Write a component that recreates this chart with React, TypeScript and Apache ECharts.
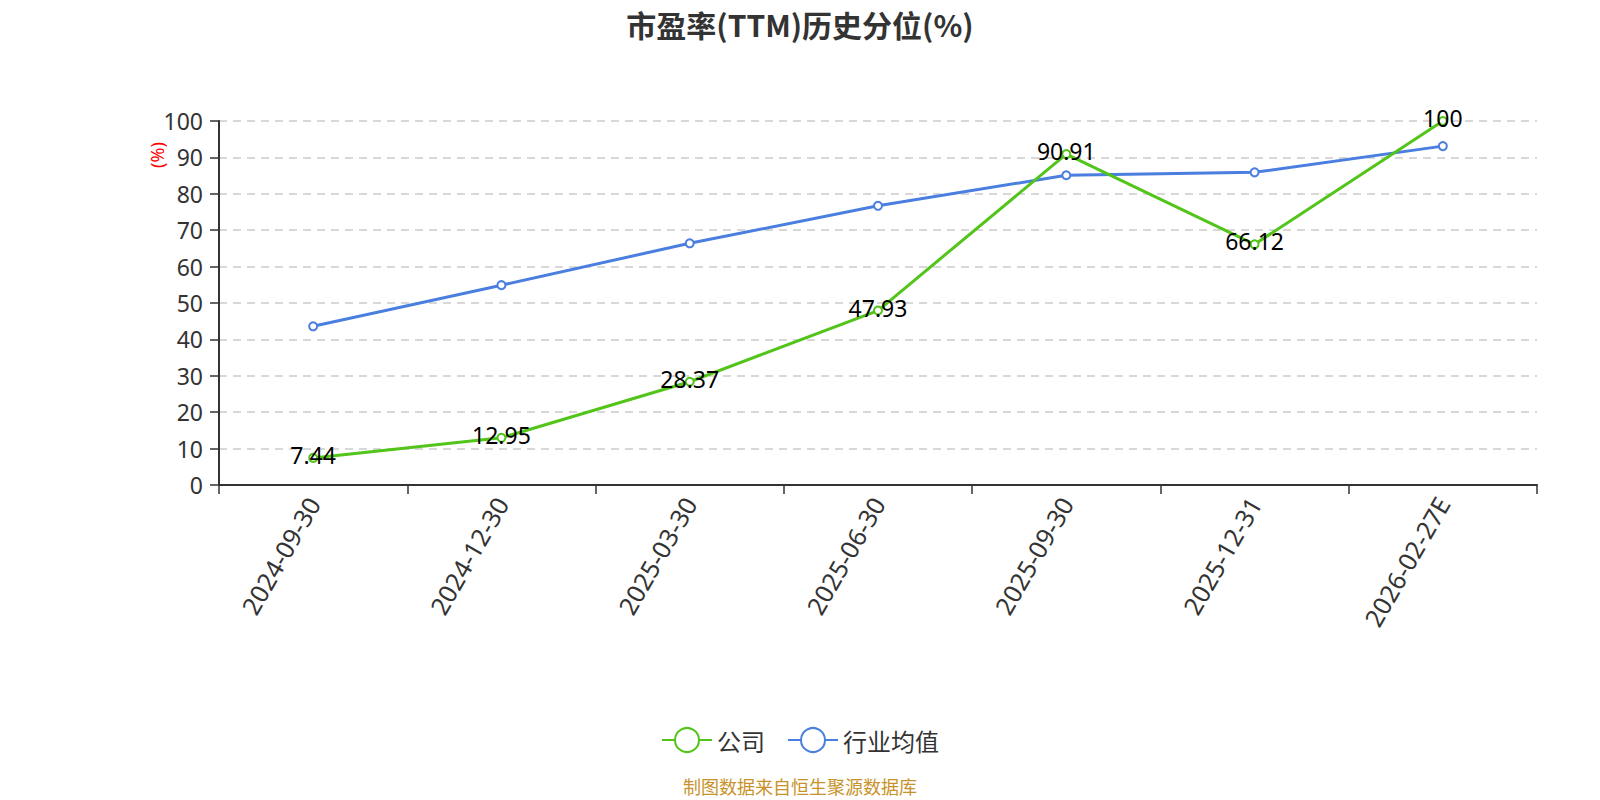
import React, { useEffect, useRef } from "react";
import * as echarts from "echarts";

const categories = ["2024-09-30", "2024-12-30", "2025-03-30", "2025-06-30", "2025-09-30", "2025-12-31", "2026-02-27E"];
const companyValues = [7.44, 12.95, 28.37, 47.93, 90.91, 66.12, 100];
const industryValues = [43.6, 54.9, 66.4, 76.7, 85.1, 85.9, 93.1];
const seriesNames = ["公司", "行业均值"];
const yTicks = { min: 0, max: 100, interval: 10 };

export default function App() {
  const ref = useRef<HTMLDivElement>(null);
  useEffect(() => {
    if (!ref.current) return;
    const chart = echarts.init(ref.current, null, { renderer: "svg" });
    const font = "'Noto Sans', 'Noto Sans CJK SC', sans-serif";
    const cjk = "'Noto Sans CJK SC', 'Noto Sans', sans-serif";
    chart.setOption({
      animation: false,
      textStyle: { fontFamily: font },
      title: {
        text: "市盈率(TTM)历史分位(%)",
        left: "center",
        top: 1,
        padding: [0, 0, 0, 0],
        textStyle: { fontSize: 30, fontWeight: "bold", color: "#333", fontFamily: cjk },
      },
      legend: {
        top: 714,
        left: "center",
        itemWidth: 50,
        itemHeight: 30,
        itemGap: 22,
        textStyle: { fontSize: 24, color: "#333", fontFamily: cjk },
        data: seriesNames,
      },
      grid: { left: 211, right: 55, top: 113, bottom: 315, containLabel: false },
      xAxis: {
        type: "category",
        data: categories,
        boundaryGap: true,
        axisLine: { lineStyle: { color: "#333", width: 2 } },
        axisTick: { show: true, lineStyle: { color: "#333", width: 1.5 }, length: 9 },
        axisLabel: { rotate: 60, fontSize: 25, color: "#333", margin: 14, interval: 0 },
      },
      yAxis: {
        type: "value",
        min: yTicks.min,
        max: yTicks.max,
        interval: yTicks.interval,
        axisLine: { show: true, lineStyle: { color: "#333", width: 2 } },
        axisTick: { show: true, lineStyle: { color: "#333", width: 1.5 }, length: 9 },
        axisLabel: { fontSize: 23, color: "#333", margin: 16 },
        splitLine: { lineStyle: { type: [8, 6], color: "#ccc", width: 1.5 } },
      },
      graphic: [
        {
          type: "text",
          x: 149,
          y: 147,
          rotation: Math.PI / 2,
          style: { text: "(%)", fill: "red", fontSize: 18, fontFamily: font, align: "center", verticalAlign: "middle" },
        },
        {
          type: "text",
          left: "center",
          top: 769,
          style: { text: "制图数据来自恒生聚源数据库", fill: "#c8922a", fontSize: 18, fontFamily: cjk },
        },
      ],
      series: [
        {
          name: seriesNames[0],
          type: "line",
          data: companyValues,
          symbol: "emptyCircle",
          symbolSize: 8,
          lineStyle: { width: 3, color: "#52c41a" },
          itemStyle: { color: "#52c41a" },
          label: { show: true, position: "inside", offset: [0, -3], fontSize: 23, color: "#000" },
          z: 3,
        },
        {
          name: seriesNames[1],
          type: "line",
          data: industryValues,
          symbol: "emptyCircle",
          symbolSize: 8,
          lineStyle: { width: 3, color: "#4a7fe0" },
          itemStyle: { color: "#4a7fe0" },
          z: 2,
        },
      ],
    });
    return () => chart.dispose();
  }, []);
  return <div ref={ref} style={{ width: 1584, height: 792 }} />;
}
